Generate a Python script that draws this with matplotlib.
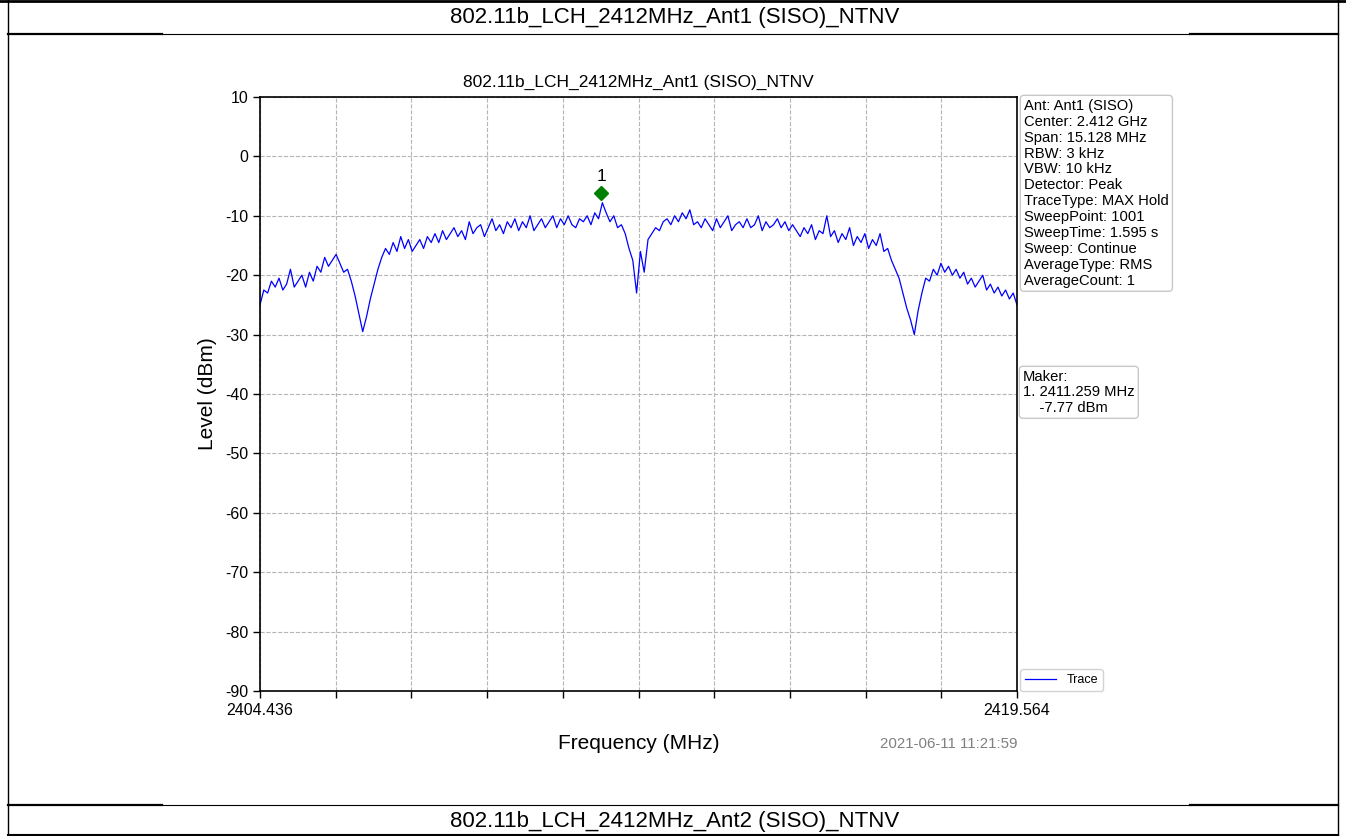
import numpy as np
import matplotlib
matplotlib.use("Agg")
import matplotlib.pyplot as plt
from matplotlib.lines import Line2D

plt.rcParams['font.family'] = ['Liberation Sans', 'DejaVu Sans']

# ---------------- data ----------------
header_top = "802.11b_LCH_2412MHz_Ant1 (SISO)_NTNV"
header_bottom = "802.11b_LCH_2412MHz_Ant2 (SISO)_NTNV"
chart_title = "802.11b_LCH_2412MHz_Ant1 (SISO)_NTNV"
f_start = 2404.436
f_stop = 2419.564
y_ticks = [10, 0, -10, -20, -30, -40, -50, -60, -70, -80, -90]

levels = [
    -25.0, -22.5, -23.0, -21.0, -22.0, -20.5, -22.5, -21.5, -19.0, -22.0, -21.0,
    -20.0, -22.0, -19.5, -21.0, -18.5, -19.5,
    -17.0, -18.5, -17.5, -16.5, -18.0, -19.5,
    -19.0, -21.0, -23.5, -26.5,
    -29.5, -27.0, -24.0,
    -21.5, -19.0, -17.0, -15.5,
    -16.5, -14.5, -16.0, -13.5, -15.5, -14.0, -16.0,
    -15.0, -14.0, -15.5, -13.5, -14.5, -13.0, -14.5, -12.5, -14.0, -13.0,
    -12.0, -13.5, -12.5, -14.0, -11.0, -13.0, -12.0, -11.5, -13.5, -12.0,
    -10.5, -12.5, -11.5, -13.0, -11.0, -12.0, -10.5, -12.5, -11.0, -12.0,
    -10.0, -12.5, -11.5, -10.5, -12.0,
    -11.0, -10.0, -12.0, -10.5, -11.5, -10.0, -11.5, -12.0, -10.5, -11.0,
    -10.0, -11.5, -9.5, -10.5, -7.8,
    -9.5, -11.0, -10.0, -12.0, -11.5, -13.0, -15.5,
    -17.5, -23.0, -16.0, -19.5,
    -14.0, -13.0, -12.0, -12.5, -11.0,
    -10.5, -11.5, -10.0, -11.0, -9.5, -10.5, -9.0, -11.5, -11.0,
    -12.0, -10.5, -11.5, -12.5, -10.5, -12.0, -11.0, -10.0, -12.5, -11.5,
    -11.0, -12.0, -10.5, -12.0, -11.5, -10.0, -12.5, -11.0, -12.0, -11.5,
    -10.5, -12.0, -11.0, -12.5, -11.5,
    -12.5, -13.5, -12.0, -13.0, -11.5, -14.0, -12.5, -13.0, -10.0, -13.5,
    -12.5, -14.5, -13.0, -14.0, -12.0, -15.0, -13.5, -14.5, -13.0, -15.5,
    -14.0, -15.0, -13.0, -16.0, -15.5, -17.5, -19.0,
    -20.5, -23.0, -25.5, -27.5, -30.0,
    -26.0, -23.0, -20.5, -21.0,
    -19.0, -20.0, -18.0, -19.5, -18.5, -20.0, -19.0,
    -20.5, -19.5, -21.5, -20.5, -22.0, -21.0, -20.0,
    -22.5, -21.5, -23.0, -22.0, -23.5, -22.5, -24.0, -23.0, -25.0,
]

marker_freq = 2411.259
marker_level = -7.77

info_lines = [
    "Ant: Ant1 (SISO)",
    "Center: 2.412 GHz",
    "Span: 15.128 MHz",
    "RBW: 3 kHz",
    "VBW: 10 kHz",
    "Detector: Peak",
    "TraceType: MAX Hold",
    "SweepPoint: 1001",
    "SweepTime: 1.595 s",
    "Sweep: Continue",
    "AverageType: RMS",
    "AverageCount: 1",
]
timestamp = "2021-06-11 11:21:59"

# ---------------- figure ----------------
W, H = 1346, 836
fig = plt.figure(figsize=(W / 100, H / 100), dpi=100)

def fx(px):
    return px / W

def fy(py):
    return 1 - py / H

def hline(y, x0, x1, lw):
    fig.add_artist(Line2D([fx(x0), fx(x1)], [fy(y), fy(y)], color='black', lw=lw,
                          transform=fig.transFigure))

def vline(x, y0, y1, lw):
    fig.add_artist(Line2D([fx(x), fx(x)], [fy(y0), fy(y1)], color='black', lw=lw,
                          transform=fig.transFigure))

hline(1, 0, W, 2.0)
hline(835, 8, 1338, 1.5)
vline(8, 0, 836, 1.0)
vline(1338, 0, 836, 1.0)
for yy in (34, 805):
    hline(yy, 8, 162, 1.6)
    hline(yy, 1190, 1338, 1.6)
    hline(yy, 162, 1190, 0.8)

hdr_font = ['Liberation Sans Narrow', 'Liberation Sans', 'DejaVu Sans']
fig.text(fx(675), fy(18), header_top, ha='center', va='center', fontsize=16,
         family=hdr_font)
fig.text(fx(675), fy(821), header_bottom, ha='center', va='center', fontsize=16,
         family=hdr_font)

# axes
ax = fig.add_axes([fx(260), fy(691), (1017 - 260) / W, (691 - 97) / H])
freqs = np.linspace(f_start, f_stop, len(levels))
ax.plot(freqs, levels, color='blue', lw=0.9, label='Trace')
ax.plot([marker_freq], [marker_level + 1.6], marker='D', color='green',
        markersize=7, linestyle='none')
ax.text(marker_freq, marker_level + 3.1, "1", ha='center', va='bottom', fontsize=12.5)

ax.set_xlim(f_start, f_stop)
ax.set_ylim(-90, 10)
xt = np.linspace(f_start, f_stop, 11)
ax.set_xticks(xt)
ax.set_xticklabels([f"{f_start:.3f}"] + [""] * 9 + [f"{f_stop:.3f}"], fontsize=11.5)
ax.set_yticks(y_ticks)
ax.set_yticklabels([str(v) for v in y_ticks], fontsize=11.5)
ax.tick_params(axis='both', direction='out', length=5, width=1.0, colors='black')
ax.grid(True, linestyle='--', color='#b5b5b5', lw=0.8)
for s in ax.spines.values():
    s.set_color('black')
    s.set_linewidth(1.2)
ax.set_title(chart_title, fontsize=12.5, pad=7)
ax.set_ylabel("Level (dBm)", fontsize=15, labelpad=6)
ax.set_xlabel("Frequency (MHz)", fontsize=15, labelpad=12)

fig.text(fx(1017), fy(744), timestamp, ha='right', va='center', fontsize=10.8,
         color='#808080')

box = dict(boxstyle='round,pad=0.25', facecolor='white', edgecolor='#c8c8c8', lw=1.0)
fig.text(fx(1024), fy(99), "\n".join(info_lines), ha='left', va='top', fontsize=10.6,
         linespacing=1.17, bbox=box)
fig.text(fx(1023), fy(370), "Maker:\n1. 2411.259 MHz\n    -7.77 dBm", ha='left',
         va='top', fontsize=10.6, linespacing=1.12, bbox=box)

leg = fig.legend(loc='lower left', bbox_to_anchor=(fx(1020), fy(691)), fontsize=9,
                 frameon=True, handlelength=2.5, borderaxespad=0)
leg.get_frame().set_edgecolor('#c8c8c8')

fig.savefig("out.png", dpi=100)
